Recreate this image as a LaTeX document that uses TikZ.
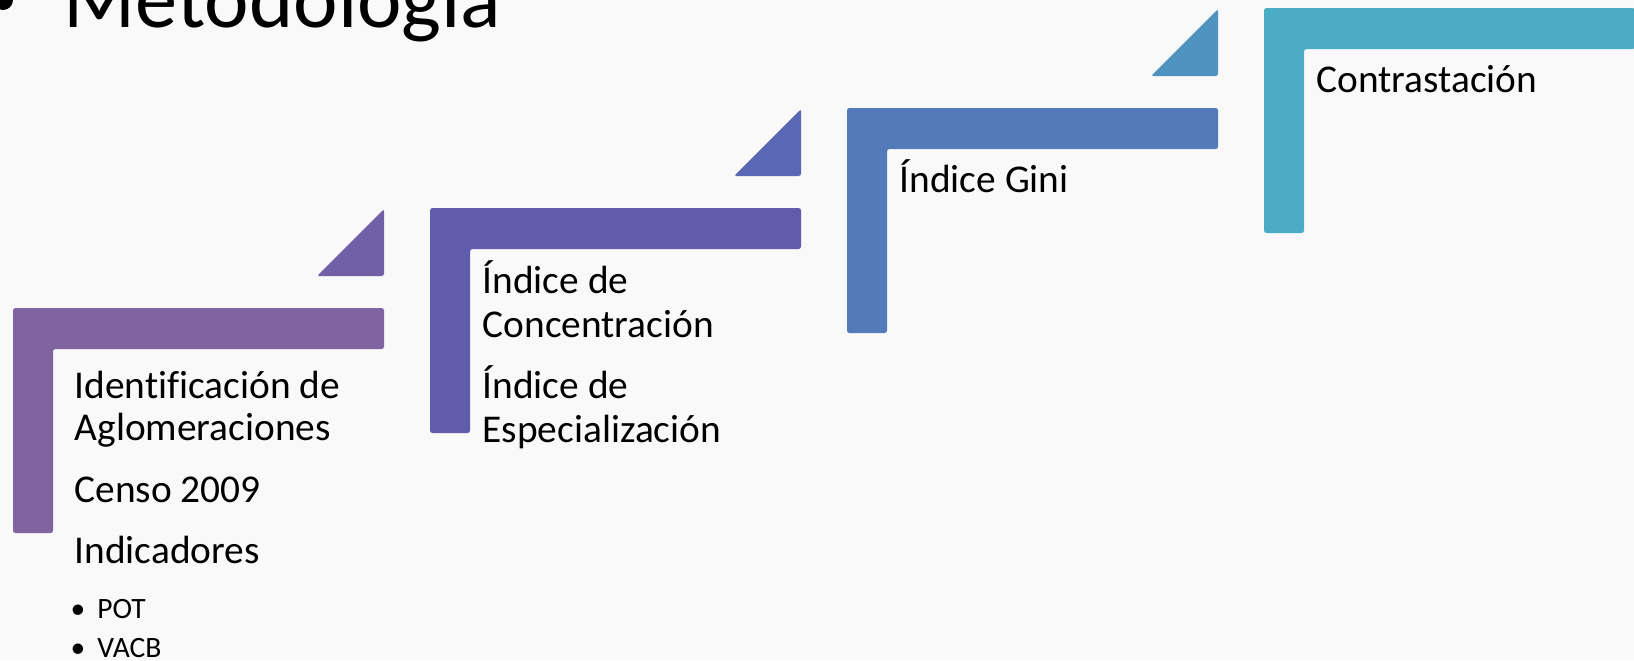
\documentclass[tikz,border=0pt]{standalone}
\usepackage{fontspec}
\setmainfont{Carlito}[Ligatures = NoCommon]
\usepackage{tikz}
\definecolor{mybg}{RGB}{249, 249, 249}
\definecolor{mypurple}{RGB}{128, 100, 162}
\definecolor{mypurple2}{RGB}{114, 96, 167}
\definecolor{myviolet}{RGB}{96, 91, 171}
\definecolor{myviolet2}{RGB}{90, 104, 180}
\definecolor{myblue}{RGB}{83, 123, 186}
\definecolor{myblue2}{RGB}{78, 147, 192}
\definecolor{myaqua}{RGB}{75, 172, 198}
\tikzset{
  elbow/.style = {rounded corners = 0.7pt},
  wedge/.style = {rounded corners = 0.7pt},
  steptext/.style = {anchor = base west, inner sep = 0pt, font = \fontsize{11.2}{13}\selectfont},
  subtext/.style = {anchor = base west, inner sep = 0pt, font = \fontsize{8.4}{10}\selectfont}
}

\begin{document}
\begin{tikzpicture}[scale = 1]

\useasboundingbox (0, 0) rectangle (16.34, 6.6);
\fill[mybg] (0, 0) rectangle (16.34, 6.6);
\clip (0, 0) rectangle (16.34, 6.6);

% title, cut at the top
\fill (0.03, 6.6) circle (0.1);
\node[anchor = base west, inner sep = 0pt, font = \fontsize{24}{28}\selectfont] (title) at (0.63, 6.33) {Metodología};

% step 1
\begin{scope}[xshift = 1.3mm, yshift = 35.2mm]
\fill[mypurple, elbow] (0, 0) -- (3.71, 0) -- (3.71, -0.41) -- (0.40, -0.41) -- (0.40, -2.25) -- (0, -2.25) -- cycle;
\fill[mypurple2, wedge] (3.71, 0.99) -- (3.71, 0.32) -- (3.04, 0.32) -- cycle;
\node[steptext] (ident) at (0.61, -0.90) {Identificación de};
\node[steptext] (aglom) at (0.61, -1.32) {Aglomeraciones};
\node[steptext] (censo) at (0.61, -1.94) {Censo 2009};
\node[steptext] (indic) at (0.61, -2.55) {Indicadores};
\node[subtext] (pot) at (0.57, -3.10) {•\hspace{1.2mm}POT};
\node[subtext] (vacb) at (0.57, -3.49) {•\hspace{1.2mm}VACB};
\end{scope}

% step 2
\begin{scope}[xshift = 43.0mm, yshift = 45.2mm]
\fill[myviolet, elbow] (0, 0) -- (3.71, 0) -- (3.71, -0.41) -- (0.40, -0.41) -- (0.40, -2.25) -- (0, -2.25) -- cycle;
\fill[myviolet2, wedge] (3.71, 0.99) -- (3.71, 0.32) -- (3.04, 0.32) -- cycle;
\node[steptext] (conc1) at (0.52, -0.85) {Índice de};
\node[steptext] (conc2) at (0.52, -1.29) {Concentración};
\node[steptext] (espe1) at (0.52, -1.90) {Índice de};
\node[steptext] (espe2) at (0.52, -2.34) {Especialización};
\end{scope}

% step 3
\begin{scope}[xshift = 84.7mm, yshift = 55.2mm]
\fill[myblue, elbow] (0, 0) -- (3.71, 0) -- (3.71, -0.41) -- (0.40, -0.41) -- (0.40, -2.25) -- (0, -2.25) -- cycle;
\fill[myblue2, wedge] (3.71, 0.99) -- (3.71, 0.32) -- (3.04, 0.32) -- cycle;
\node[steptext] (gini) at (0.52, -0.84) {Índice Gini};
\end{scope}

% step 4
\begin{scope}[xshift = 126.4mm, yshift = 65.2mm]
\fill[myaqua, elbow] (0, 0) -- (3.71, 0) -- (3.71, -0.41) -- (0.40, -0.41) -- (0.40, -2.25) -- (0, -2.25) -- cycle;
\node[steptext] (contr) at (0.52, -0.84) {Contrastación};
\end{scope}

\end{tikzpicture}
\end{document}
